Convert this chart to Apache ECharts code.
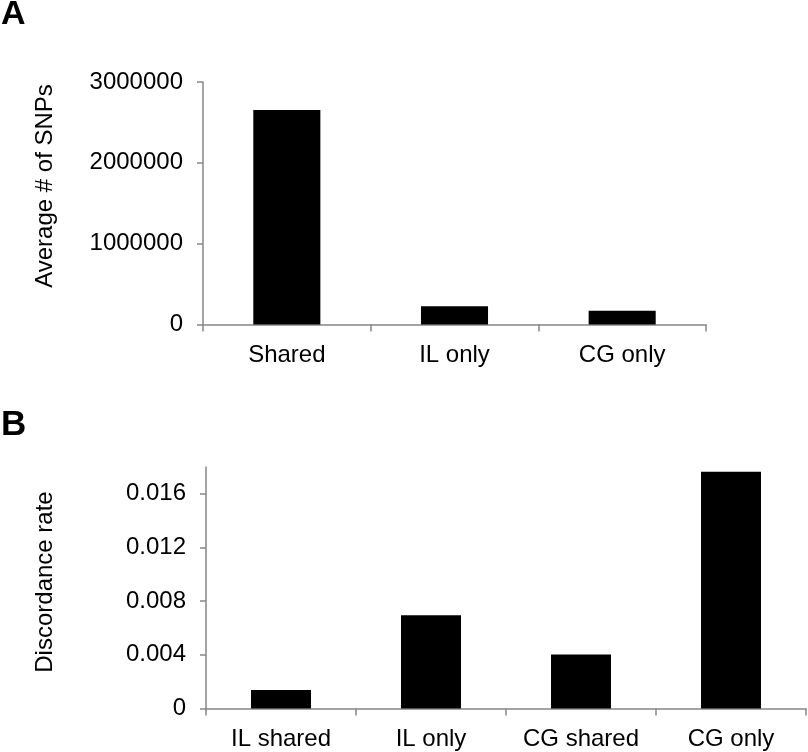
<!DOCTYPE html>
<html>
<head>
<meta charset="utf-8">
<script src="https://cdn.jsdelivr.net/npm/echarts@6/dist/echarts.min.js"></script>
<style>
  html, body { margin: 0; padding: 0; background: #fff; }
  #chart { width: 808px; height: 752px; }
</style>
</head>
<body>
<div id="chart"></div>
<script>
// panel A
const snpCategories = ["Shared", "IL only", "CG only"];
const snpValues = [2655000, 226000, 169000];
const snpTicks = [0, 1000000, 2000000, 3000000];

// panel B
const discCategories = ["IL shared", "IL only", "CG shared", "CG only"];
const discValues = [0.00138, 0.00695, 0.00403, 0.01765];
const discTicks = [0, 0.004, 0.008, 0.012, 0.016];

const FONT = "Liberation Sans, Arial, sans-serif";
const AXIS_GRAY = "#868686";

function catAxis(gridIndex, data) {
  return {
    type: "category",
    gridIndex,
    data,
    axisLine: { show: true, lineStyle: { color: AXIS_GRAY, width: 1.5 } },
    axisTick: { show: true, length: 7, lineStyle: { color: AXIS_GRAY, width: 1.5 } },
    axisLabel: { color: "#000", fontSize: 24, fontFamily: FONT, margin: 19, interval: 0 },
  };
}

function valAxis(gridIndex, max, ticks) {
  return {
    type: "value",
    gridIndex,
    min: 0,
    max,
    interval: ticks[1] - ticks[0],
    axisLine: { show: true, lineStyle: { color: AXIS_GRAY, width: 1.5 } },
    axisTick: { show: true, length: 6, customValues: ticks, lineStyle: { color: AXIS_GRAY, width: 1.5 } },
    axisLabel: {
      color: "#000",
      fontSize: 24,
      fontFamily: FONT,
      margin: 20,
      customValues: ticks,
      formatter: (v) => String(v),
    },
    splitLine: { show: false },
  };
}

const chart = echarts.init(document.getElementById("chart"), null, { renderer: "canvas" });

chart.setOption({
  animation: false,
  backgroundColor: "#fff",
  textStyle: { fontFamily: FONT },
  grid: [
    { left: 203, right: 102, top: 82, bottom: 427.5 },
    { left: 206, right: 2, top: 467, bottom: 43.5 },
  ],
  xAxis: [
    catAxis(0, snpCategories),
    catAxis(1, discCategories),
  ],
  yAxis: [
    valAxis(0, 3000000, snpTicks),
    valAxis(1, 0.018, discTicks),
  ],
  series: [
    {
      type: "bar",
      xAxisIndex: 0,
      yAxisIndex: 0,
      data: snpValues,
      barWidth: "40%",
      itemStyle: { color: "#000" },
    },
    {
      type: "bar",
      xAxisIndex: 1,
      yAxisIndex: 1,
      data: discValues,
      barWidth: "40%",
      itemStyle: { color: "#000" },
    },
  ],
  graphic: [
    { type: "text", left: 1, top: -2, style: { text: "A", font: "bold 34px " + FONT, fill: "#000" } },
    { type: "text", left: 1, top: 408, style: { text: "B", font: "bold 35px " + FONT, fill: "#000" } },
    {
      type: "text",
      x: 45, y: 186,
      rotation: Math.PI / 2,
      style: { text: "Average # of SNPs", font: "24px " + FONT, fill: "#000", align: "center", verticalAlign: "middle" },
    },
    {
      type: "text",
      x: 45, y: 582,
      rotation: Math.PI / 2,
      style: { text: "Discordance rate", font: "24px " + FONT, fill: "#000", align: "center", verticalAlign: "middle" },
    },
  ],
});
</script>
</body>
</html>
